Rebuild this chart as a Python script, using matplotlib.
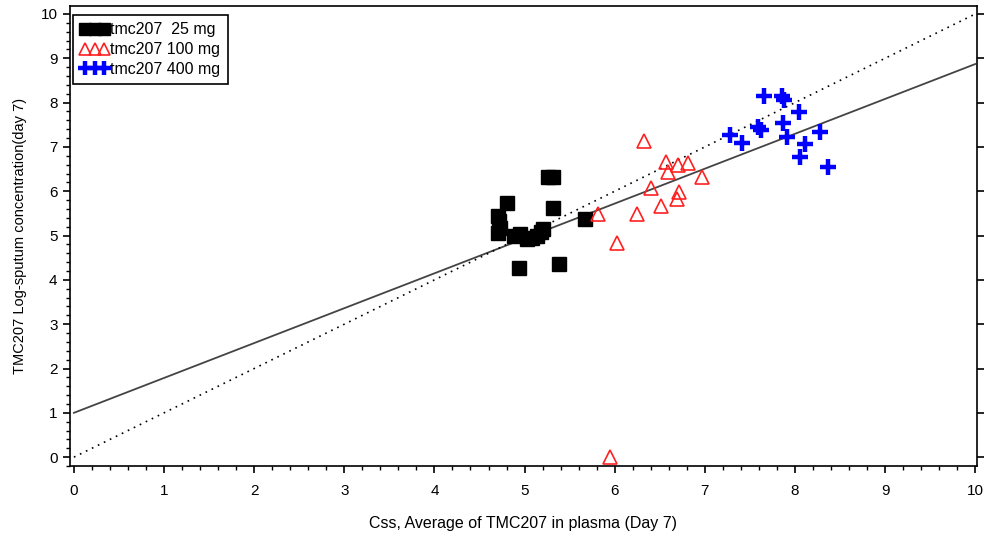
import numpy as np
import matplotlib
matplotlib.use('Agg')
import matplotlib.pyplot as plt
from matplotlib.ticker import MultipleLocator

plt.rcParams['font.family'] = ['Liberation Sans', 'DejaVu Sans']

# Css (x) vs log sputum concentration (y), day 7, per dose group
x25 = [4.70, 4.72, 4.70, 4.73, 4.81, 4.88, 4.95, 5.03, 5.08, 5.14, 5.18, 5.20,
       5.26, 5.31, 5.31, 5.67, 4.94, 5.38]
y25 = [5.45, 5.32, 5.05, 5.18, 5.73, 5.00, 5.03, 4.92, 4.95, 4.98, 5.08, 5.15,
       6.32, 6.32, 5.62, 5.37, 4.27, 4.36]

x100 = [6.33, 6.57, 6.59, 6.70, 6.81, 6.97, 6.40, 6.71, 6.69, 6.51, 6.25, 5.82,
        6.02, 5.95]
y100 = [7.13, 6.66, 6.43, 6.59, 6.64, 6.32, 6.07, 5.98, 5.83, 5.67, 5.48, 5.48,
        4.83, 0.00]

x400 = [7.66, 7.86, 7.88, 8.05, 7.59, 7.62, 7.87, 7.28, 7.41, 7.91, 8.28, 8.11,
        8.06, 8.37]
y400 = [8.15, 8.15, 8.06, 7.79, 7.45, 7.38, 7.54, 7.27, 7.09, 7.23, 7.34, 7.07,
        6.78, 6.55]

# fitted line and line of identity
fit_intercept = 1.0
fit_slope = 0.787
line_x = [0, 10]

fig = plt.figure(figsize=(9.84, 5.36), dpi=100)
ax = fig.add_axes([0.0711, 0.1306, 0.9218, 0.8582])

ax.plot(line_x, [fit_intercept + fit_slope * v for v in line_x],
        color='#444444', lw=1.3, zorder=2)
ax.plot(line_x, line_x, color='black', lw=1.2, ls=(0, (1, 3)), zorder=2)

ax.plot(x25, y25, ls='none', marker='s', ms=10.5, mfc='black', mec='black',
        label='tmc207  25 mg', zorder=3)
ax.plot(x100, y100, ls='none', marker='^', ms=10, mfc='none', mec='#ff2020',
        mew=1.2, label='tmc207 100 mg', zorder=3)
ax.plot(x400, y400, ls='none', marker='+', ms=12, mec='#0000ff', mew=3.2,
        label='tmc207 400 mg', zorder=4)

ax.set_xlim(-0.044, 10.02)
ax.set_ylim(-0.2, 10.18)
ax.xaxis.set_major_locator(MultipleLocator(1))
ax.xaxis.set_minor_locator(MultipleLocator(0.2))
ax.yaxis.set_major_locator(MultipleLocator(1))
ax.yaxis.set_minor_locator(MultipleLocator(0.2))
ax.tick_params(which='major', direction='out', length=5, width=1.2,
               labelsize=11, pad=8)
ax.tick_params(which='minor', direction='out', length=3, width=1)
ax.tick_params(axis='y', which='major', right=True, pad=4)
for s in ax.spines.values():
    s.set_linewidth(1.2)

ax.set_xlabel('Css, Average of TMC207 in plasma (Day 7)', fontsize=11.5,
              labelpad=13)
ax.set_ylabel('TMC207 Log-sputum concentration(day 7)', fontsize=10.5,
              labelpad=10)

leg = ax.legend(loc='upper left', bbox_to_anchor=(0.0033, 0.980),
                numpoints=3, markerscale=0.8, handlelength=1.8,
                handletextpad=0.1, borderpad=0.45, labelspacing=0.3,
                borderaxespad=0, fontsize=11.5,
                fancybox=False, framealpha=1, edgecolor='black')
leg.get_frame().set_linewidth(1.2)

fig.savefig('out.png', dpi=100)
